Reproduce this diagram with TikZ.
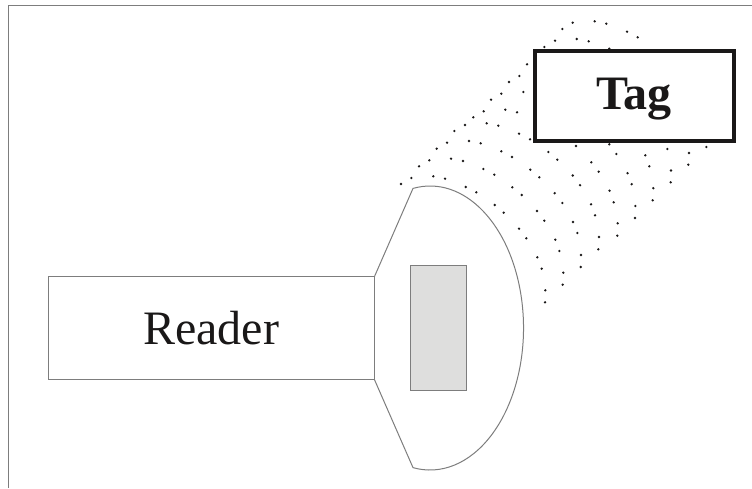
\documentclass[tikz,border=0pt]{standalone}
\usepackage{fontspec}
\setmainfont{Liberation Serif}
\usepackage{xcolor}
\definecolor{Col1}{RGB}{125,125,125}
\definecolor{Col2}{RGB}{26,24,24}
\definecolor{Col3}{RGB}{222,222,221}
\tikzstyle{Frame}=[draw=Col1,line width=1.5pt]
\tikzstyle{Edge}=[draw=Col1,line width=1pt]
\tikzstyle{Dot}=[fill=Col2]
\tikzstyle{Reader}=[rectangle,draw=Col1,line width=1pt,inner sep=0pt,outer sep=0pt,
minimum width=326pt,minimum height=102.3pt,text=Col2,
font=\fontsize{48pt}{48pt}\selectfont]
\tikzstyle{Coil}=[rectangle,draw=Col1,line width=1pt,fill=Col3,inner sep=0pt,
minimum width=56.4pt,minimum height=124.7pt]
\tikzstyle{Tag}=[rectangle,draw=Col2,line width=4pt,inner sep=0pt,
minimum width=198.7pt,minimum height=89.4pt]
\tikzstyle{TagText}=[text=Col2,inner sep=0pt,
font=\fontsize{48pt}{48pt}\selectfont\bfseries]
\begin{document}
\begin{tikzpicture}[x=1pt,y=-1pt]
        \useasboundingbox(0,0)rectangle(752,488);
        \coordinate(f0)at(8.5,488);
        \coordinate(f1)at(8.5,5.5);
        \coordinate(f2)at(752,5.5);
        \draw[Frame](f0)--(f1)--(f2);
        \foreach \x/\y in {
            572.7/22.7,594.7/21.3,606.3/23.7,562.3/29,627/31.7,637.7/37.3,
            555/40.7,576.7/39,588.7/41.3,544.3/47,609.3/48.7,527/64.3,
            519.3/76,509/82,501.3/93.7,523.3/92,491/99.7,483.7/111.3,
            505.3/109.7,517/112.3,473.3/117.3,465/125,486.7/123.3,498.3/125.7,
            454.3/131,519/133.7,530/139.3,447/142.7,469/141,480.7/143.3,
            436.7/148.7,501.3/151.3,512/157,429.3/160.3,451/158.7,463/161,
            419/166.3,411.3/178,401/184,433.3/176.3,445/178.7,483.3/169,
            494.3/174.7,465.7/187,476.3/192.3,512.3/187.3,521.7/195,530.3/169.7,
            539.3/177.3,548.3/152,557.3/159.7,576/146,609.3/144.3,616.3/154,
            591.3/162.3,598.7/171.7,572.7/175.5,580/185.2,554.7/193.2,609.5/190.7,
            627.5/173.2,631.7/184.2,653.3/188.2,652.7/200.3,670.7/182.3,671/170.5,
            688.3/164.7,649.3/166.3,645.3/155.3,667.3/149,689/153,706.3/147,
            494.7/205,503.7/212.7,519/228.7,526.3/238.3,562.3/203,591/204.3,
            613.7/202.3,635.3/206,537/211,544.3/220.7,573/222,595/215.3,
            635/218,617.7/223.3,577.3/233,617.3/235.7,599/237,555.3/239.7,
            598.3/249.3,559.3/251,581/255,537.3/257.3,580.7/267,541.7/268.7,
            563.3/272.7,562.7/284.7,545.3/290.3,545/302.3}
            \fill[Dot](\x,\y)circle(1.3pt);
        \node[Reader](reader)at(211.3,328.1){Reader};
        \node[Coil](coil)at(438.5,328.3){};
        \node[Tag](tag)at(634.6,96){};
        \node[TagText](tagtext)at(634,99){Tag};
        \coordinate(a0)at(413,188.4);
        \draw[Edge](reader.north east)--(a0)
            arc[x radius=93.5pt,y radius=142pt,start angle=100.5,end angle=-100.5]
            --(reader.south east);
    \end{tikzpicture}
\end{document}
